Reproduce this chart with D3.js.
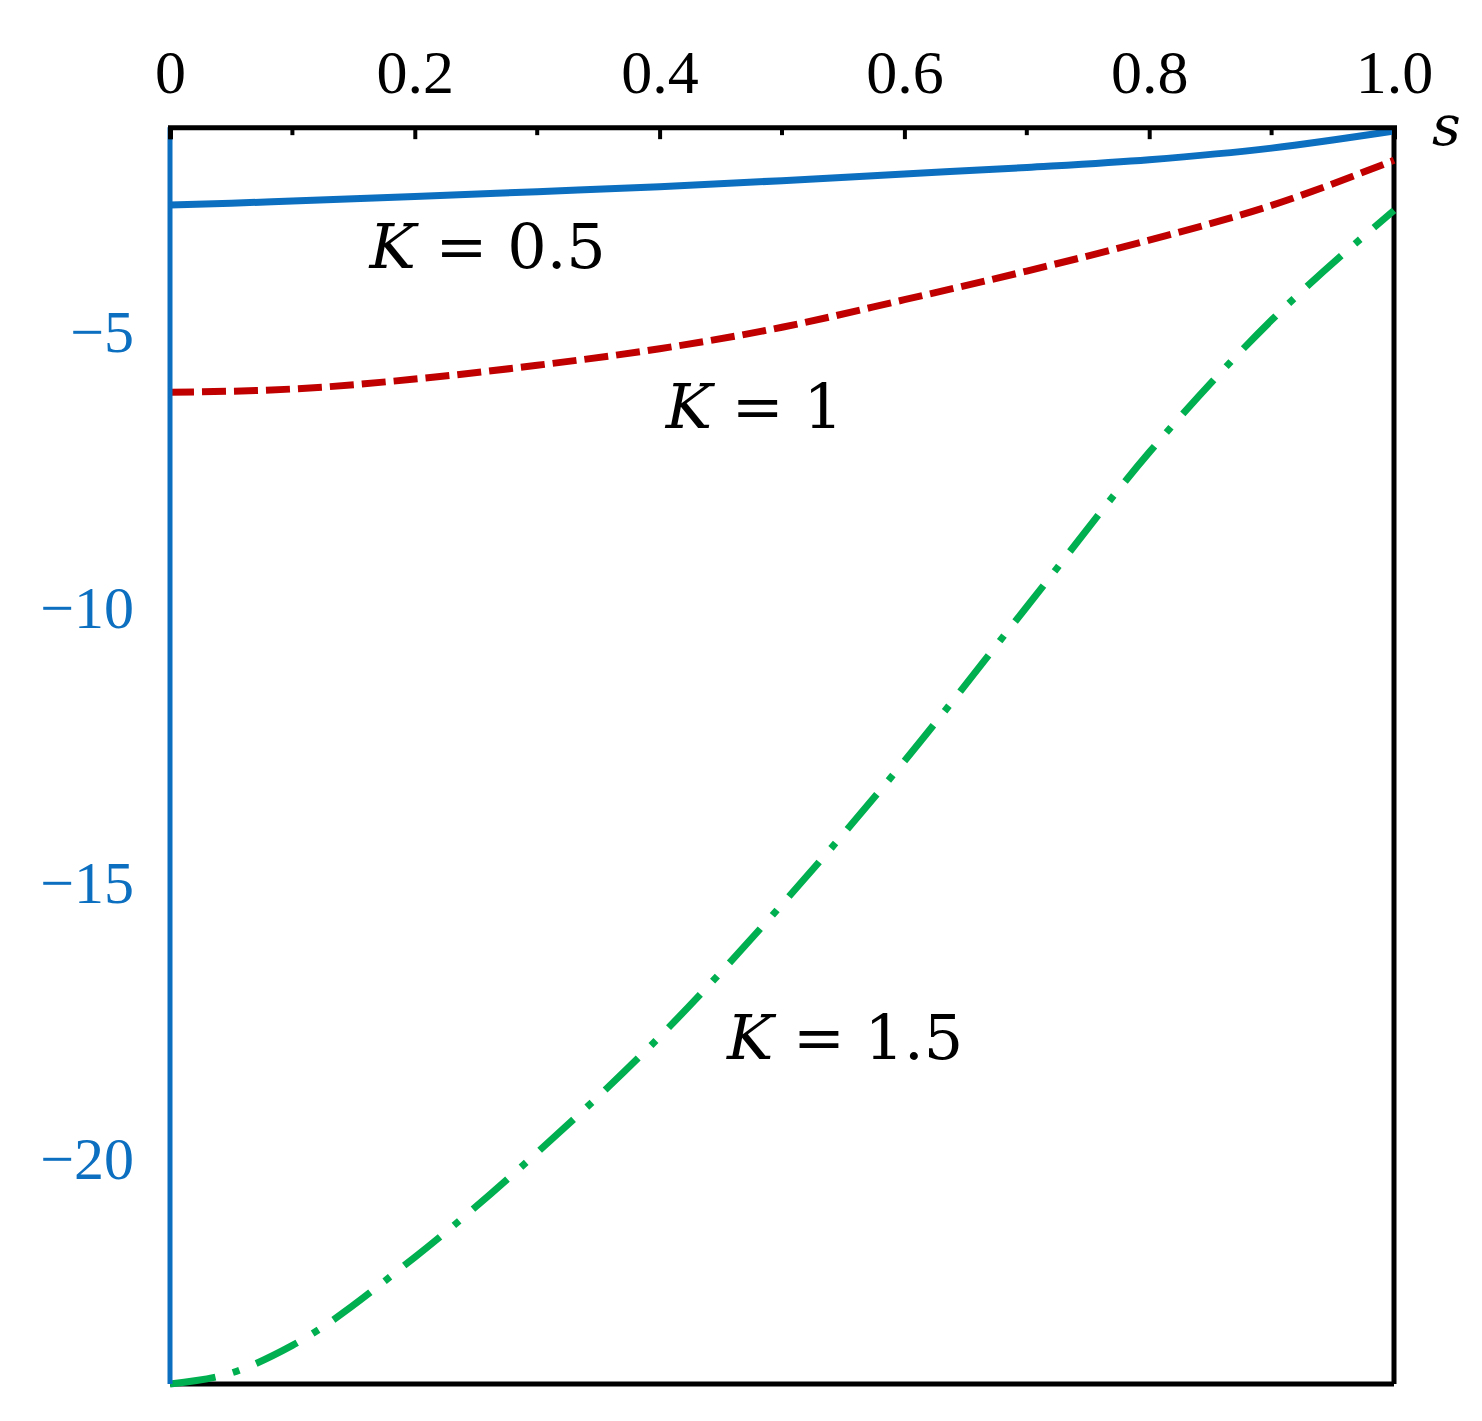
<!DOCTYPE html>
<html><head><meta charset="utf-8">
<script src="https://cdn.jsdelivr.net/npm/d3@7"></script>
<style>body{margin:0;background:#fff}</style>
</head><body>
<script>
const sVals = [0, 0.05, 0.1, 0.2, 0.3, 0.4, 0.5, 0.6, 0.7, 0.8, 0.9, 1.0]
const k05 = [-2.71, -2.68, -2.64, -2.56, -2.47, -2.38, -2.27, -2.15, -2.03, -1.89, -1.68, -1.37]
const k1 = [-6.11, -6.09, -6.05, -5.87, -5.62, -5.32, -4.93, -4.43, -3.91, -3.35, -2.72, -1.9]
const k15 = [-24.1, -23.9, -23.4, -21.8, -19.9, -17.8, -15.4, -12.8, -10.0, -7.2, -4.8, -2.81]
const xTicks = [0, 0.2, 0.4, 0.6, 0.8, 1.0]
const xMinor = [0.1, 0.3, 0.5, 0.7, 0.9]
const yTicks = [-5, -10, -15, -20]
const labels = [
  { text: "0.5", s: 0.163, y: -3.85 },
  { text: "1", s: 0.405, y: -6.75 },
  { text: "1.5", s: 0.455, y: -18.2 }
]

const width = 1482, height = 1421
const x = d3.scaleLinear().domain([0, 1]).range([170, 1394])
const y = d3.scaleLinear().domain([0, -24.1]).range([55.5, 1384])

const svg = d3.select("body").append("svg").attr("width", width).attr("height", height)

// frame: right and bottom
svg.append("line").attr("x1", x(1)).attr("x2", x(1)).attr("y1", y(-1.3)).attr("y2", y(-24.1))
  .attr("stroke", "#000").attr("stroke-width", 5)
svg.append("line").attr("x1", x(0)).attr("x2", x(1)).attr("y1", y(-24.1)).attr("y2", y(-24.1))
  .attr("stroke", "#000").attr("stroke-width", 5)

// curves
const line = d3.line().x(d => x(d[0])).y(d => y(d[1])).curve(d3.curveMonotoneX)
const series = [
  { v: k05, color: "#0c6fc0", dash: null },
  { v: k1, color: "#c00000", dash: "24,8" },
  { v: k15, color: "#00b050", dash: "46,18,7,18" }
]
series.forEach(sr => {
  svg.append("path").datum(sVals.map((s, i) => [s, sr.v[i]]))
    .attr("d", line).attr("fill", "none").attr("stroke", sr.color)
    .attr("stroke-width", 7).attr("stroke-dasharray", sr.dash)
})

// left axis (blue)
svg.append("line").attr("x1", x(0)).attr("x2", x(0)).attr("y1", y(-1.3)).attr("y2", y(-24.1))
  .attr("stroke", "#0c6fc0").attr("stroke-width", 5)
svg.selectAll(".yt").data(yTicks).enter().append("text")
  .attr("x", 134).attr("y", d => y(d)).attr("dy", "0.35em").attr("text-anchor", "end")
  .attr("fill", "#0c6fc0").style("font-family", "Liberation Serif").style("font-size", "60px")
  .text(d => "\u2212" + Math.abs(d))

// top axis
const xAxis = d3.axisTop(x).tickValues(xTicks).tickSize(-12).tickFormat(d => d === 0 ? "0" : d3.format(".1f")(d))
const gx = svg.append("g").attr("transform", `translate(0,${y(-1.3)})`).call(xAxis)
gx.select(".domain").attr("stroke-width", 5)
gx.selectAll(".tick line").attr("stroke-width", 4)
gx.selectAll(".tick text").attr("y", -34).style("font-family", "Liberation Serif").style("font-size", "62px").attr("fill", "#000")
gx.selectAll(".minor").data(xMinor).enter().append("line")
  .attr("x1", d => x(d)).attr("x2", d => x(d)).attr("y1", 0).attr("y2", 8)
  .attr("stroke", "#000").attr("stroke-width", 4)
svg.append("text").attr("x", 1432).attr("y", 145).style("font-family", "DejaVu Serif")
  .style("font-style", "italic").style("font-size", "56px").text("s")

// curve labels
labels.forEach(l => {
  const t = svg.append("text").attr("x", x(l.s)).attr("y", y(l.y))
    .style("font-family", "DejaVu Serif").style("font-size", "62px")
  t.append("tspan").style("font-style", "italic").text("K")
  t.append("tspan").text(" = " + l.text)
})
</script>
</body></html>
